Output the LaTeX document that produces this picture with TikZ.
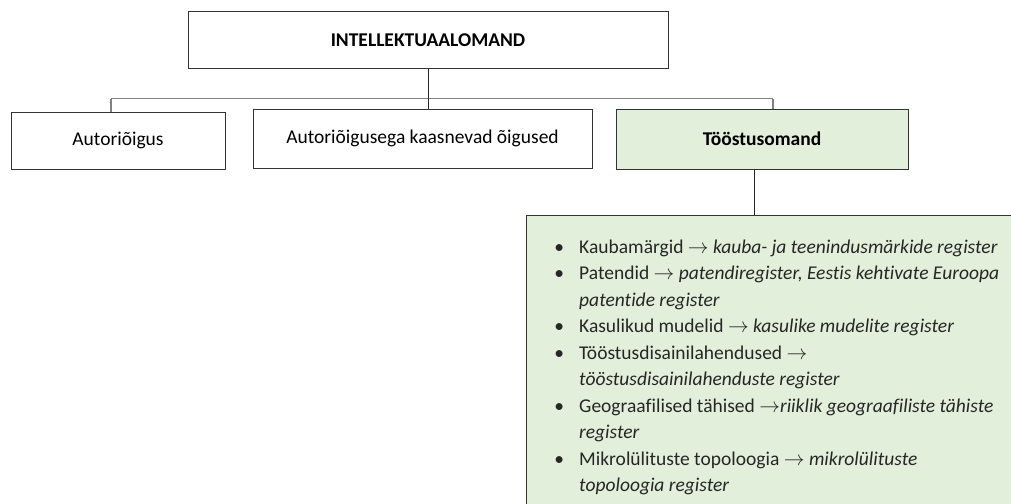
\documentclass[tikz,border=0pt]{standalone}
\usepackage{fontspec}
\setmainfont{Carlito}[Ligatures=NoCommon]
\begin{document}
\begin{tikzpicture}[x=1pt,y=-1pt,
  box/.style={draw=black!80, line width=1pt, rectangle, inner sep=0pt, font=\fontsize{19.5}{24}\selectfont},
  greenbox/.style={box, fill=lgreen},
  bus/.style={draw=black!50, line width=1.2pt},
  conn/.style={draw=black!85, line width=1pt},
  item/.style={anchor=base west, inner sep=0pt, text=black!85, font=\fontsize{19.5}{24}\selectfont}
]
\definecolor{lgreen}{HTML}{E2EFDA}
\clip (0,0) rectangle (1011,503);
\useasboundingbox (0,0) rectangle (1011,503);
\fill[white] (0,0) rectangle (1011,503);

\node[box, minimum width=480pt, minimum height=56pt, font=\fontsize{19.5}{24}\selectfont\bfseries] (top) at (428,40) {INTELLEKTUAALOMAND};
\node[box, minimum width=214pt, minimum height=57pt] (aut) at (118,140.5) {Autoriõigus};
\node[box, minimum width=339pt, minimum height=59pt] (mid) at (422.5,138.5) {Autoriõigusega kaasnevad õigused};
\node[greenbox, minimum width=292pt, minimum height=60pt, font=\fontsize{19.5}{24}\selectfont\bfseries] (ind) at (762,139) {Tööstusomand};
\node[greenbox, minimum width=510pt, minimum height=310pt] (list) at (781,370) {};

\coordinate (busL) at (111,98.5);
\coordinate (busR) at (773,98.5);
\coordinate (dn) at (754,169);
\draw[bus] (busL) -- (busR);
\draw[bus] (busL) -- (busL |- aut.north);
\draw[bus] (busR) -- (busR |- ind.north);
\draw[conn] (top.south) -- (top.south |- mid.north);
\draw[conn] (dn) -- (dn |- list.north);

\newcommand\bul{\llap{•\hspace{15pt}}}
\newcommand\arr{$\rightarrow$}
\node[item] (l1) at (579,253) {\bul Kaubamärgid \arr{} \textit{kauba- ja teenindusmärkide register}};
\node[item] (l2) at (579,279.5) {\bul Patendid \arr{} \textit{patendiregister, Eestis kehtivate Euroopa}};
\node[item] (l3) at (579,306) {\textit{patentide register}};
\node[item] (l4) at (579,332.5) {\bul Kasulikud mudelid \arr{} \textit{kasulike mudelite register}};
\node[item] (l5) at (579,359) {\bul Tööstusdisainilahendused \arr};
\node[item] (l6) at (579,385.5) {\textit{tööstusdisainilahenduste register}};
\node[item] (l7) at (579,412) {\bul Geograafilised tähised \arr\textit{riiklik geograafiliste tähiste}};
\node[item] (l8) at (579,438.5) {\textit{register}};
\node[item] (l9) at (579,465) {\bul Mikrolülituste topoloogia \arr{} \textit{mikrolülituste}};
\node[item] (l10) at (579,491.5) {\textit{topoloogia register}};
\end{tikzpicture}
\end{document}
